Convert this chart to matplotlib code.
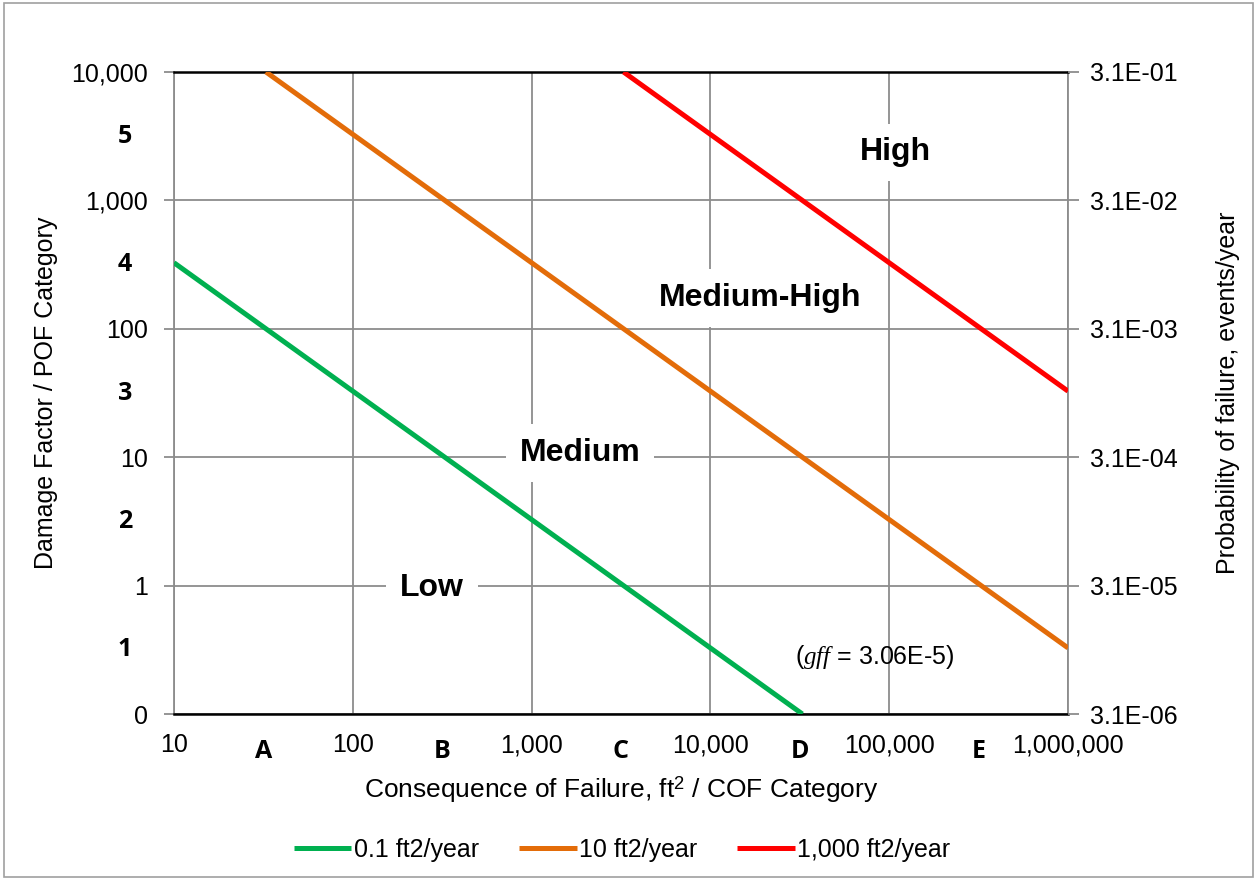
import numpy as np
import matplotlib
matplotlib.use("Agg")
import matplotlib.pyplot as plt
from matplotlib.patches import Rectangle

# --- data ---
series_names = ["0.1 ft2/year", "10 ft2/year", "1,000 ft2/year"]
series_colors = ["#00B050", "#E36C09", "#FF0000"]
# end points of each iso-risk line (COF ft2, damage factor)
green_cof = [10, 32680]
green_df = [327, 0.1]
orange_cof = [32.7, 1000000]
orange_df = [10000, 0.327]
red_cof = [3268, 1000000]
red_df = [10000, 32.7]

x_ticks = [10, 100, 1000, 10000, 100000, 1000000]
x_labels = ["10", "100", "1,000", "10,000", "100,000", "1,000,000"]
y_ticks = [0.1, 1, 10, 100, 1000, 10000]
y_labels = ["0", "1", "10", "100", "1,000", "10,000"]
y2_labels = ["3.1E-06", "3.1E-05", "3.1E-04", "3.1E-03", "3.1E-02", "3.1E-01"]
cof_cats = ["A", "B", "C", "D", "E"]
pof_cats = ["1", "2", "3", "4", "5"]

plt.rcParams.update({
    "font.family": ["Liberation Sans", "DejaVu Sans"],
    "font.size": 18,
    "mathtext.fontset": "custom",
    "mathtext.it": "Liberation Serif:italic",
    "mathtext.rm": "Liberation Sans",
})

fig = plt.figure(figsize=(12.57, 8.8), dpi=100)
ax = fig.add_axes([174 / 1257, 1 - 714 / 880, 894 / 1257, 642 / 880])

ax.plot(green_cof, green_df, color=series_colors[0], lw=3.6, label=series_names[0], solid_capstyle="butt", zorder=3)
ax.plot(orange_cof, orange_df, color=series_colors[1], lw=3.6, label=series_names[1], solid_capstyle="butt", zorder=3)
ax.plot(red_cof, red_df, color=series_colors[2], lw=3.6, label=series_names[2], solid_capstyle="butt", zorder=3)

ax.set_xscale("log")
ax.set_yscale("log")
ax.set_xlim(10, 1000000)
ax.set_ylim(0.1, 10000)
ax.set_xticks(x_ticks)
ax.set_xticklabels(x_labels)
ax.set_yticks(y_ticks)
ax.set_yticklabels(y_labels)
ax.minorticks_off()
ax.grid(True, color="#8c8c8c", lw=1.3)
ax.set_axisbelow(True)
ax.tick_params(axis="x", length=0, pad=14)
ax.tick_params(axis="y", length=7, width=1.3, color="#8c8c8c", pad=12)

for s in ["top", "bottom"]:
    ax.spines[s].set_color("black")
    ax.spines[s].set_linewidth(1.8)
for s in ["left", "right"]:
    ax.spines[s].set_color("#8c8c8c")
    ax.spines[s].set_linewidth(1.3)

ax.set_xlabel("Consequence of Failure, ft$^2$ / COF Category", labelpad=12, fontsize=19)
ax.set_ylabel("Damage Factor / POF Category")
ax.yaxis.set_label_coords(-0.13, 0.5)

ax2 = ax.twinx()
ax2.set_yscale("log")
ax2.set_ylim(ax.get_ylim())
ax2.set_yticks(y_ticks)
ax2.set_yticklabels(y2_labels)
ax2.minorticks_off()
ax2.tick_params(axis="y", length=8, width=1.3, color="#8c8c8c", pad=8)
for s in ax2.spines.values():
    s.set_visible(False)
ax2.set_ylabel("Probability of failure, events/year")
ax2.yaxis.set_label_coords(1.165, 0.5)

# category labels between decades
cat_font = dict(fontfamily=["Open Sans", "DejaVu Sans"], fontweight="bold", fontsize=18)
for i, c in enumerate(cof_cats):
    xm = np.sqrt(x_ticks[i] * x_ticks[i + 1])
    ax.text(xm, -0.058, c, transform=ax.get_xaxis_transform(), ha="center", va="center", **cat_font)
for i, c in enumerate(pof_cats):
    ym = np.sqrt(y_ticks[i] * y_ticks[i + 1])
    ax.text(-0.055, ym, c, transform=ax.get_yaxis_transform(), ha="center", va="center", **cat_font)

# region labels
box = dict(facecolor="white", edgecolor="none", pad=10)
for txt, px, py in [("High", 0.8065, 0.875), ("Medium-High", 0.6555, 0.648),
                    ("Medium", 0.454, 0.4065), ("Low", 0.2886, 0.196)]:
    ax.text(px, py, txt, transform=ax.transAxes, ha="center", va="center",
            fontsize=23, fontweight="bold", bbox=box, zorder=4)
ax.text(0.784, 0.0888, r"($\mathit{gff}$ = 3.06E-5)", transform=ax.transAxes,
        ha="center", va="center", fontsize=18, zorder=4)

fig.legend(loc="center", bbox_to_anchor=(0.495, 1 - 850 / 880), ncol=3, frameon=False,
           handlelength=2.3, handletextpad=0.1, columnspacing=1.6, fontsize=18)

fig.add_artist(Rectangle((0.003, 0.003), 0.994, 0.994, transform=fig.transFigure,
                         fill=False, edgecolor="#a0a0a0", lw=1.2))

fig.savefig("out.png", dpi=100)
